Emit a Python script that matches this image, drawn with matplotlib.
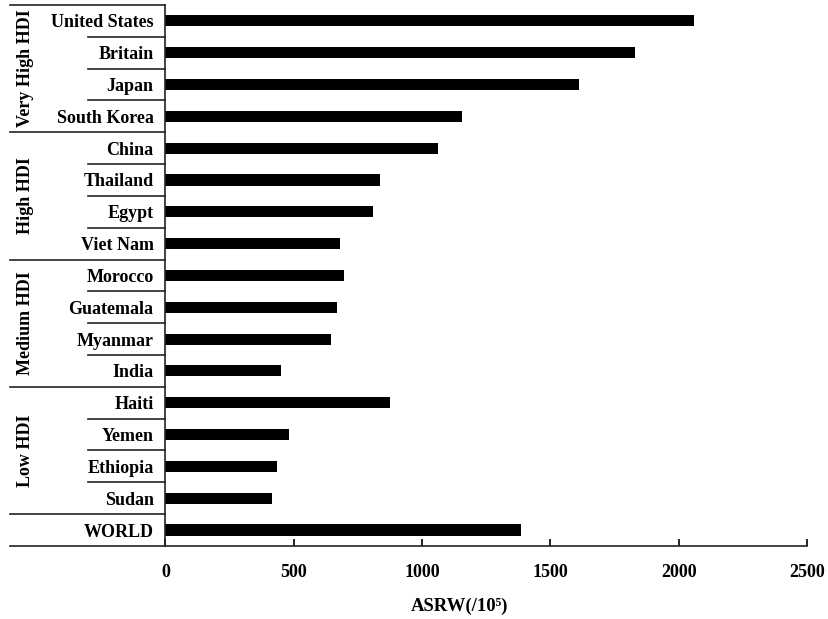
import matplotlib.pyplot as plt
import matplotlib.transforms as mtransforms
import numpy as np

plt.rcParams['font.family'] = ['Liberation Serif', 'DejaVu Serif']
plt.rcParams['font.weight'] = 'bold'

countries = ['United States', 'Britain', 'Japan', 'South Korea',
             'China', 'Thailand', 'Egypt', 'Viet Nam',
             'Morocco', 'Guatemala', 'Myanmar', 'India',
             'Haiti', 'Yemen', 'Ethiopia', 'Sudan',
             'WORLD']
asrw = [2060, 1829, 1613, 1155,
        1061, 838, 809, 680,
        694, 670, 646, 449,
        877, 482, 434, 414,
        1386]
groups = ['Very High HDI', 'High HDI', 'Medium HDI', 'Low HDI']
group_sizes = [4, 4, 4, 4]
xticks = [0, 500, 1000, 1500, 2000, 2500]

fig = plt.figure(figsize=(8.29, 6.19), dpi=100)
ax = fig.add_axes([0.1995, 0.118, 0.774, 0.874])

y = np.arange(len(countries))
ax.barh(y, asrw, height=0.35, color='black')
ax.set_ylim(len(countries) - 0.5, -0.5)
ax.set_xlim(0, 2500)
ax.set_xticks(xticks)
ax.set_xticklabels([str(t) for t in xticks], fontsize=13, fontweight='bold')
ax.set_yticks(y)
ax.set_yticklabels(countries, fontsize=13, fontweight='bold')
ax.tick_params(axis='y', length=0, pad=8.5)
ax.tick_params(axis='x', direction='in', length=5, width=1.2, pad=13)
for s in ['top', 'right']:
    ax.spines[s].set_visible(False)
for s in ['left', 'bottom']:
    ax.spines[s].set_linewidth(1.2)
    ax.spines[s].set_color('#222222')

ax.set_xlabel('ASRW(/10\u2075)', fontsize=13.5, fontweight='bold')
ax.xaxis.set_label_coords(0.458, -0.096)

# separator lines in the label area
trans = mtransforms.blended_transform_factory(fig.transFigure, ax.transData)
x_far, x_near, x_axis = 10 / 829, 88 / 829, 165 / 829
start = 0
ax.plot([x_far, x_axis], [-0.5, -0.5], transform=trans, color='#222222', lw=1.2, clip_on=False)
for g, n in zip(groups, group_sizes):
    for k in range(1, n):
        b = start + k - 0.5
        ax.plot([x_near, x_axis], [b, b], transform=trans, color='#222222', lw=1.2, clip_on=False)
    b = start + n - 0.5
    ax.plot([x_far, x_axis], [b, b], transform=trans, color='#222222', lw=1.2, clip_on=False)
    ax.text(26 / 829, start + (n - 1) / 2, g, transform=trans, rotation=90,
            ha='center', va='center', fontsize=13, fontweight='bold')
    start += n
b = len(countries) - 0.5
ax.plot([x_far, x_axis], [b, b], transform=trans, color='#222222', lw=1.2, clip_on=False)

fig.savefig('out.png', dpi=100)
